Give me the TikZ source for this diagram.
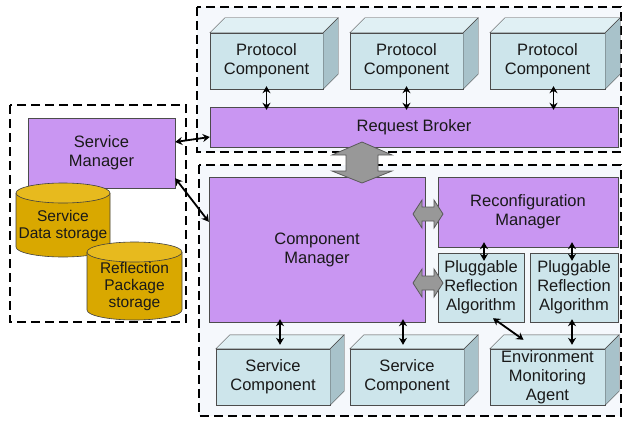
\documentclass[tikz,border=0pt]{standalone}
\usepackage{fontspec}
\setmainfont{Liberation Sans}
\usetikzlibrary{arrows.meta}

\definecolor{mgrfill}{RGB}{201,150,242}
\definecolor{compfill}{RGB}{205,229,235}
\definecolor{comptop}{RGB}{224,240,244}
\definecolor{compside}{RGB}{168,194,202}
\definecolor{cylfill}{RGB}{217,168,0}
\definecolor{cyltopfill}{RGB}{231,186,30}
\definecolor{framefill}{RGB}{245,248,252}
\definecolor{bigarrowfill}{RGB}{152,152,152}

% storage drum: centre x, x radius, top y, bottom y
\newcommand{\storage}[4]{%
  \draw[cyl] (#1-#2, #3+10) -- (#1-#2, #4-10)
    arc[start angle=180, end angle=360, x radius=#2pt, y radius=10pt]
    -- (#1+#2, #3+10);
  \draw[cyl, fill=cyltopfill] (#1, #3+10) ellipse[x radius=#2pt, y radius=10pt];
}

\begin{document}
\begin{tikzpicture}[x=1pt, y=-1pt,
    txt/.style={align=center, inner sep=0pt, text=black!90, font=\fontsize{16.5}{19}\selectfont},
    mgr/.style={txt, draw=black!70, fill=mgrfill},
    comp/.style={txt, draw=black!70, fill=compfill},
    store/.style={txt, font=\fontsize{15.5}{17}\selectfont},
    cyl/.style={draw=black!75, fill=cylfill, line width=0.6pt},
    frame/.style={draw=black, line width=2pt, dash pattern=on 9pt off 5pt},
    link/.style={<->, >={Stealth[length=7pt, width=8pt]}, line width=1.8pt},
    into/.style={shorten <=-3pt, shorten >=-3pt},
    deepinto/.style={shorten <=-5pt, shorten >=-8pt},
    bigarrow/.style={draw=black!65, fill=bigarrowfill, line width=0.8pt}]
    \useasboundingbox (0, 0) rectangle (628, 420);

    %Frames
    \draw[frame, fill=white] (10, 105) rectangle (186, 322);
    \draw[frame, fill=framefill] (197, 7) rectangle (621, 152);
    \draw[frame, fill=framefill] (199, 165) rectangle (621, 416);

    %Nodes
    \node[mgr, minimum width=147, minimum height=70] at (101.5, 153) (sm) {Service\\Manager};
    \storage{63}{47}{183}{257}
    \node[store] at (63, 226) (sds) {Service\\Data storage};
    \storage{134.5}{47.5}{242}{320}
    \node[store] at (134.5, 286) (rps) {Reflection\\Package\\storage};

    \node[comp, minimum width=113, minimum height=56] at (266.5, 61) (pc1) {Protocol\\Component};
    \node[comp, minimum width=113, minimum height=56] at (406.5, 61) (pc2) {Protocol\\Component};
    \node[comp, minimum width=115, minimum height=56] at (547.5, 61) (pc3) {Protocol\\Component};
    \node[mgr, minimum width=408, minimum height=40] at (414, 127) (broker) {Request Broker};

    \node[mgr, minimum width=216, minimum height=145] at (317, 249.5) (cm) {Component\\Manager};
    \node[mgr, minimum width=180, minimum height=70] at (528, 212) (rm) {Reconfiguration\\Manager};
    \node[comp, minimum width=86, minimum height=69] at (481, 287.5) (pra1) {Pluggable\\Reflection\\Algorithm};
    \node[comp, minimum width=88, minimum height=69] at (574, 287.5) (pra2) {Pluggable\\Reflection\\Algorithm};

    \node[comp, minimum width=114, minimum height=56] at (273, 377) (sc1) {Service\\Component};
    \node[comp, minimum width=114, minimum height=56] at (407, 377) (sc2) {Service\\Component};
    \node[comp, minimum width=115, minimum height=56] at (547.5, 377) (ema) {Environment\\Monitoring\\Agent};

    %Box depth
    \foreach \n/\d in {pc1/15, pc2/15, pc3/15, sc1/14, sc2/14, ema/14} {
        \filldraw[draw=black!70, fill=comptop] (\n.north west) -- ++(\d pt, \d pt)
            -- ([shift={(\d pt, \d pt)}]\n.north east) -- (\n.north east) -- cycle;
        \filldraw[draw=black!70, fill=compside] (\n.north east) -- ++(\d pt, \d pt)
            -- ([shift={(\d pt, \d pt)}]\n.south east) -- (\n.south east) -- cycle;
    }
    \coordinate (sc1top) at ([shift={(7pt, 7pt)}]sc1.north);
    \coordinate (sc2top) at ([shift={(-4pt, 7pt)}]sc2.north);
    \coordinate (ematop) at ([shift={(7pt, 7pt)}]ema.north);

    %Lines
    \draw[link, into] (pc1.south) -- (pc1.south |- broker.north);
    \draw[link, into] (pc2.south) -- (pc2.south |- broker.north);
    \draw[link, into] ([xshift=6pt]pc3.south) -- ([xshift=6pt]pc3.south |- broker.north);
    \draw[link] ([yshift=11pt]sm.east) -- ([yshift=-10pt]broker.west);
    \draw[link] ([yshift=10pt]sm.south east) -- ([yshift=-45pt]cm.north west);
    \draw[link, deepinto] ([xshift=3pt]pra1.north |- rm.south) -- ([xshift=3pt]pra1.north);
    \draw[link, deepinto] ([xshift=-2pt]pra2.north |- rm.south) -- ([xshift=-2pt]pra2.north);
    \draw[link, into] (sc1top |- cm.south) -- (sc1top);
    \draw[link, into] (sc2top |- cm.south) -- (sc2top);
    \draw[link, into] ([xshift=-2pt]pra2.south) -- ([xshift=-2pt]pra2.south |- ematop);
    \draw[link] ([xshift=12pt, yshift=4pt]pra1.south) -- ([shift={(-24pt, 9pt)}]ema.north);

    %Big arrows
    \draw[bigarrow] (346, 155) -- (332, 155) -- (362, 142) -- (392, 155) -- (378, 155)
        -- (378, 171) -- (392, 171) -- (362, 183) -- (332, 171) -- (346, 171) -- cycle;
    \foreach \y in {214, 283} {
        \draw[bigarrow] (413, \y) -- (422, \y-14) -- (422, \y-7) -- (434, \y-7) -- (434, \y-14)
            -- (443, \y) -- (434, \y+14) -- (434, \y+7) -- (422, \y+7) -- (422, \y+14) -- cycle;
    }
\end{tikzpicture}
\end{document}
